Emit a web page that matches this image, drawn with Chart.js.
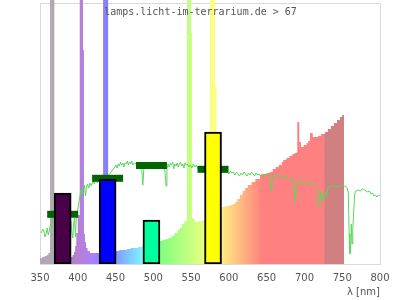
<!DOCTYPE html>
<html><head><meta charset="utf-8">
<script src="https://cdn.jsdelivr.net/npm/chart.js@4/dist/chart.umd.min.js"></script>
<style>html,body{margin:0;padding:0;background:#fff}canvas{display:block}</style>
</head><body>
<canvas id="c" width="400" height="300"></canvas>
<script>
// ---- data (arbitrary relative units) ----
const specWl  = [350,353,356,359,361,363.3,369,375,385,391,393,395,396.5,398,400,402.6,406.9,408.2,409.5,411,413,416,429,433.5,440.2,445,449.5,455,460,465,470,475,480,485,490,495,500,505,508,512,516,520,524,528,532,535,538,541,544.6,549.9,551.2,553,555,560,565,570,575,581.6,583.6,587,590.9,596,601.5,605,608,611,614.7,618,621.3,625,630,635,641,645,650,654,658,662,666,670,672,676,680,684,687,689.7,690.5,693.2,695.4,699,703,705,707.4,711,714,718,722,727,731,735,739,743,747,750,752.4];
const specVal = [6,7,8,9,11,400,8,7,7,7,9,12,18,31,49,400,214,30,22,16,13,11,12,400,14,13,13,14,14,15,16,16,17,18,19,20,21,22,23,24,25,26,28,31,34,36,40,43,400,231,46,45,42,43,44,47,400,178,54,55,57,58,59,60,62,65,69,73,76,79,82,85,89,90,91,92,95,97,99,102,104,106,108,110,111,112,142,122,117,119,121,123,131,127,127,128,130,132,135,138,141,144,147,149,0];

const sunWl  = [352,353.5,355,356.5,358,359.5,361,362.5,364,365.5,367,368.5,372,376,380,384,388,391,392.2,393.4,394.5,395.8,396.9,398,399.5,401,402.5,404,405.5,407,408.5,410.2,411.5,413,414.5,416,418,420,422,424,426,428,430,434,438,442,446,449,450.5,452,453.5,455,456.5,458,459.5,461,462.5,464,465.5,467,468.5,470,471.5,473,475,477,479,481,483,484.5,486.1,487.5,495,500,505,509,511,512.5,514,515.5,516.8,518,519.5,521,522.5,524,525.5,527,528.5,530,531.5,533,534.5,536,537.5,539,540.5,542,543.5,545,547,549,551,553,555,557,559,561,563,566,575,585,592,594,596,598,600,602,604,606,608,610,612,614,616,618,620,622,624,626,628,630,632,634,636,638,640,642,644,646,648,650,652,654,655.5,656.3,657.2,658.5,660,662,664,666,668,670,672,674,676,678,680,682,684,686,687.3,688.5,689.5,691,693,695,697,699,701,703,705,707,709,711,713,715,716.5,718,719.3,720.5,722,723.5,725,726.5,728,729.5,731,733,735,738,741,744,747,750,753,756,758,759.2,760,761,762,763,764,765,766.5,768,771,774,777,780,783,786,788,790,792,794,796,798,800];
const sunVal = [31,35,33,27,30,36,29,34,40,37,44,48,46,50,44,52,48,44,32,26,40,46,27,45,52,60,66,74,70,76,79,68,77,80,76,81,78,83,80,85,81,86,84,88,86,90,94,97,99,96,100,98,102,99,101,97,101,100,103,99,102,100,103,99,101,100,102,99,101,97,79,96,100,101,99,100,98,101,97,92,78,95,100,97,101,99,102,95,100,98,101,97,100,102,98,100,96,101,99,100,97,99,96,100,97,99,95,98,96,97,96,95,94,91,93,92,90,93,91,92,89,92,90,88,91,89,92,90,88,91,89,92,90,88,91,89,90,88,90,87,89,88,90,87,80,72,82,88,89,87,89,88,87,89,86,88,87,85,86,84,85,78,62,70,80,82,84,81,83,80,82,81,83,80,82,81,80,78,72,62,58,68,73,62,70,66,72,68,76,78,77,79,77,78,77,79,78,77,72,30,10,12,40,20,35,50,70,73,74,73,75,74,72,73,70,71,68,69,67,69,68];

const bandCenter = [380, 439.5, 497.5, 579];   // nm
const lampBand   = [71, 85, 44, 132];          // lamp bars
const sunBand    = [49.7, 85.7, 98.5, 94.7];   // sun reference markers
const xTicks     = [350,400,450,500,550,600,650,700,750,800];
const watermark  = 'lamps.licht-im-terrarium.de > 67';
const xTitle     = 'λ [nm]';

// ---- styles ----
const specStops = [[350,'#b0a8b3'],[380,'#b0a8b3'],[381,'#a880b0'],[400,'#b780d2'],[420,'#aa80ff'],[440,'#8080ff'],[460,'#80b3ff'],[490,'#80ffff'],[510,'#80ff80'],[545,'#bfff80'],[580,'#ffff80'],[645,'#ff8080'],[726,'#ff8080'],[727,'#d08080'],[800,'#d08080']];
const barColors = ['#4a0048','#0000ff','#00ff9f','#ffff00'];

function specGradient(ctx){
  const chart = ctx.chart;
  if (!chart.chartArea) return '#ccc';
  const xs = chart.scales.x;
  const x0 = xs.getPixelForValue(350), x1 = xs.getPixelForValue(800);
  const g = chart.ctx.createLinearGradient(x0, 0, x1, 0);
  specStops.forEach(([w,c]) => g.addColorStop((w-350)/450, c));
  return g;
}

const framePlugin = {
  id: 'frame',
  beforeDatasetsDraw(chart){
    const {ctx, scales:{x, y}} = chart;
    const l = x.getPixelForValue(350), r = x.getPixelForValue(800);
    const b = y.getPixelForValue(0), t = y.getPixelForValue(261);
    ctx.save();
    ctx.strokeStyle = '#d9d9d9'; ctx.lineWidth = 1;
    ctx.strokeRect(Math.round(l)+0.5, Math.round(t)+0.5, Math.round(r-l), Math.round(b-t));
    ctx.restore();
  },
  afterDraw(chart){
    const ctx = chart.ctx;
    ctx.save();
    ctx.font = '10px "DejaVu Sans Mono", monospace';
    ctx.fillStyle = '#555';
    ctx.textAlign = 'center';
    ctx.textBaseline = 'alphabetic';
    ctx.fillText(watermark, 200.5, 15);
    ctx.restore();
  }
};

new Chart(document.getElementById('c'), {
  type: 'line',
  data: {
    datasets: [
      {
        type: 'bar',
        data: bandCenter.map((c,i) => ({x:c, y:lampBand[i]})),
        backgroundColor: barColors,
        borderColor: '#000',
        borderWidth: 2,
        borderSkipped: false,
        barThickness: 17,
        order: 1
      },
      {
        type: 'line',
        data: bandCenter.map((c,i) => ({x:c, y:sunBand[i]})),
        showLine: false,
        pointStyle: 'line',
        pointRadius: 15.5,
        pointHoverRadius: 15.5,
        pointBorderWidth: 7,
        pointBorderColor: '#006400',
        pointBackgroundColor: '#006400',
        order: 2
      },
      {
        type: 'line',
        data: sunWl.map((w,i) => ({x:w, y:sunVal[i]})),
        borderColor: '#5cd65c',
        borderWidth: 1,
        pointRadius: 0,
        fill: false,
        tension: 0,
        order: 3
      },
      {
        type: 'line',
        data: specWl.map((w,i) => ({x:w, y:specVal[i]})),
        stepped: true,
        fill: 'origin',
        borderWidth: 0,
        borderColor: 'rgba(0,0,0,0)',
        backgroundColor: specGradient,
        pointRadius: 0,
        order: 4
      }
    ]
  },
  options: {
    responsive: false,
    animation: false,
    events: [],
    layout: { autoPadding: false, padding: { left: 40, right: 20, top: 0, bottom: 0 } },
    plugins: { legend: { display: false }, tooltip: { enabled: false } },
    scales: {
      x: {
        type: 'linear', min: 350, max: 800, offset: false,
        grid: { display: false, drawTicks: false },
        border: { display: false },
        afterBuildTicks: s => { s.ticks = xTicks.map(v => ({value: v})); },
        ticks: { padding: 8.5, color: '#555', font: { family: 'DejaVu Sans', size: 10 }, maxRotation: 0, autoSkip: false },
        title: { display: true, text: xTitle, align: 'end', color: '#555', font: { family: 'DejaVu Sans', size: 10 }, padding: { top: -7, bottom: 2 } }
      },
      y: { display: false, min: 0, max: 264 }
    }
  },
  plugins: [framePlugin]
});
</script>
</body></html>
